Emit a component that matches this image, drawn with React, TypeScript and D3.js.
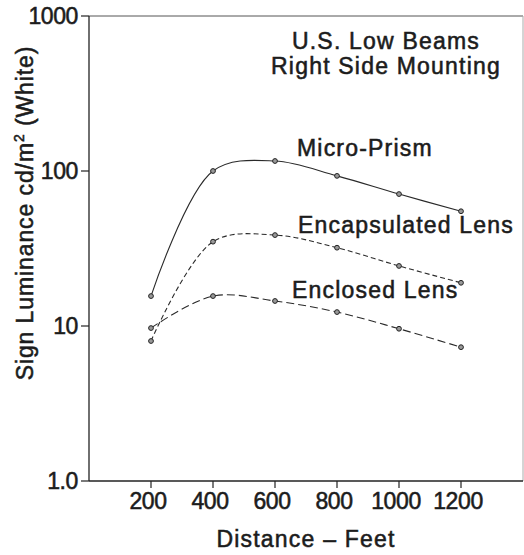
import React from 'react'
import * as d3 from 'd3'

// distances (feet) where readings were taken
const distances = [200, 400, 600, 800, 1000, 1200]

// sign luminance cd/m2
const microPrism = [15.6, 100, 116, 93, 71, 55]
const encapsulatedLens = [8.0, 35, 38.6, 32, 24.4, 19]
const enclosedLens = [9.7, 15.6, 14.5, 12.3, 9.6, 7.3]

const xTicks = [200, 400, 600, 800, 1000, 1200]
const yTicks = [1000, 100, 10, 1]
const yTickLabels = ['1000', '100', '10', '1.0']

const seriesNames = ['Micro-Prism', 'Encapsulated Lens', 'Enclosed Lens']
const titleLines = ['U.S. Low Beams', 'Right Side Mounting']

const W = 524
const H = 555
const margin = { top: 16, right: 1, bottom: 74, left: 89 }

const FONT = '"Liberation Sans", Arial, Helvetica, sans-serif'
const INK = '#1c1c1c'

export default function App() {
  const x = d3
    .scaleLinear()
    .domain([0, 1400])
    .range([margin.left, W - margin.right])
  const y = d3
    .scaleLog()
    .domain([1, 1000])
    .range([H - margin.bottom, margin.top])

  const line = d3
    .line<[number, number]>()
    .x(d => x(d[0]))
    .y(d => y(d[1]))
    .curve(d3.curveCatmullRom.alpha(0.5))

  const series = [
    { name: seriesNames[0], values: microPrism, dash: null, labelY: 156, labelX: 297 },
    { name: seriesNames[1], values: encapsulatedLens, dash: '5,3', labelY: 233, labelX: 298 },
    { name: seriesNames[2], values: enclosedLens, dash: '8,4', labelY: 298, labelX: 292 }
  ]

  const [x0, x1] = x.range()
  const [yb, yt] = y.range()

  const textStyle = {
    fontFamily: FONT,
    fill: INK,
    stroke: INK,
    strokeWidth: 0.55,
    fontSize: 23,
    letterSpacing: 1.2
  }
  const tickStyle = { ...textStyle, letterSpacing: -0.4 }

  return (
    <svg
      width={W}
      height={H}
      style={{ position: 'absolute', left: 0, top: 0, background: '#fff' }}
    >
      {/* frame */}
      <line x1={x0} x2={x1} y1={yt} y2={yt} stroke="#555" strokeWidth={1} />
      <line x1={x1} x2={x1} y1={yt} y2={yb} stroke="#aaa" strokeWidth={1} />
      <line x1={x0} x2={x0} y1={yt} y2={yb} stroke="#222" strokeWidth={1.3} />
      <line x1={x0} x2={x1} y1={yb} y2={yb} stroke="#222" strokeWidth={1.3} />

      {/* y ticks */}
      {yTicks.map((t, i) => (
        <g key={t} transform={`translate(0,${y(t)})`}>
          <line x1={x0 - 8} x2={x0} stroke="#222" strokeWidth={1.2} />
          <text x={x0 - 11} dy="0.36em" textAnchor="end" style={tickStyle}>
            {yTickLabels[i]}
          </text>
        </g>
      ))}

      {/* x ticks */}
      {xTicks.map(t => (
        <g key={t} transform={`translate(${x(t)},0)`}>
          <line y1={yb} y2={yb + 7} stroke="#222" strokeWidth={1.2} />
          <text y={509} dx={-3} textAnchor="middle" style={tickStyle}>
            {t}
          </text>
        </g>
      ))}

      {/* axis titles */}
      <text x={(x0 + x1) / 2} y={547} textAnchor="middle" style={textStyle}>
        Distance – Feet
      </text>
      <text
        transform="translate(33,213) rotate(-90)"
        textAnchor="middle"
        style={{ ...textStyle, letterSpacing: 0.9 }}
      >
        Sign Luminance cd/m
        <tspan dy={-9} style={{ fontSize: 14 }}>
          2
        </tspan>
        <tspan dy={9}> (White)</tspan>
      </text>

      {/* title */}
      {titleLines.map((s, i) => (
        <text key={s} x={386} y={49 + i * 25} textAnchor="middle" style={textStyle}>
          {s}
        </text>
      ))}

      {/* series */}
      {series.map(s => {
        const pts = distances.map((d, i) => [d, s.values[i]] as [number, number])
        return (
          <g key={s.name}>
            <path
              d={line(pts) || ''}
              fill="none"
              stroke="#2a2a2a"
              strokeWidth={1.1}
              strokeDasharray={s.dash || undefined}
            />
            {pts.map(p => (
              <circle
                key={p[0]}
                cx={x(p[0])}
                cy={y(p[1])}
                r={2.4}
                fill="#999"
                stroke="#222"
                strokeWidth={1}
              />
            ))}
            <text x={s.labelX} y={s.labelY} style={textStyle}>
              {s.name}
            </text>
          </g>
        )
      })}
    </svg>
  )
}
